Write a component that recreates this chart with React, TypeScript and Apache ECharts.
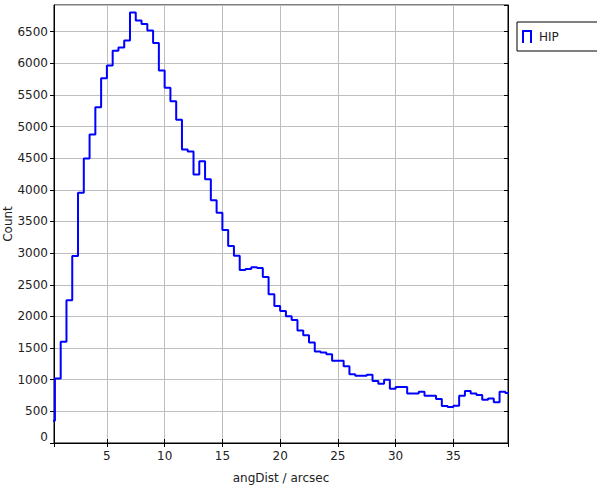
import React, { useEffect, useRef } from "react";
import * as echarts from "echarts";

const binWidth = 0.5;
const binStarts = [
  0, 0.5, 1, 1.5, 2, 2.5, 3, 3.5, 4, 4.5, 5, 5.5, 6, 6.5, 7, 7.5, 8, 8.5, 9, 9.5,
  10, 10.5, 11, 11.5, 12, 12.5, 13, 13.5, 14, 14.5, 15, 15.5, 16, 16.5, 17, 17.5, 18, 18.5, 19, 19.5,
  20, 20.5, 21, 21.5, 22, 22.5, 23, 23.5, 24, 24.5, 25, 25.5, 26, 26.5, 27, 27.5, 28, 28.5, 29, 29.5,
  30, 30.5, 31, 31.5, 32, 32.5, 33, 33.5, 34, 34.5, 35, 35.5, 36, 36.5, 37, 37.5, 38, 38.5, 39, 39.5,
];
const counts = [
  352, 1020, 1598, 2255, 2954, 3954, 4494, 4873, 5304, 5761, 5966, 6198, 6250, 6360, 6802, 6676, 6619, 6518, 6319, 5887,
  5614, 5398, 5109, 4636, 4605, 4242, 4452, 4168, 3837, 3638, 3364, 3111, 2960, 2733, 2749, 2776, 2764, 2623, 2350, 2165,
  2086, 2003, 1944, 1777, 1703, 1588, 1446, 1430, 1404, 1298, 1298, 1214, 1088, 1061, 1061, 1080, 978, 935, 998, 856,
  883, 883, 784, 784, 809, 746, 746, 694, 583, 568, 588, 746, 820, 784, 757, 683, 705, 642, 809, 788,
];
const xRange = [0.42, 39.73];
const yRange = [0, 6920];
const xTickStep = 5;
const yTickStep = 500;
const seriesName = "HIP";
const xTitle = "angDist / arcsec";
const yTitle = "Count";

const FONT = "DejaVu Sans";
const TEXT = "#222";

export default function App() {
  const ref = useRef<HTMLDivElement>(null);
  useEffect(() => {
    if (!ref.current) return;
    const chart = echarts.init(ref.current, undefined, { renderer: "svg" });
    const data: [number, number][] = binStarts.map((x, i) => [x, counts[i]]);
    const last = binStarts.length - 1;
    data.push([binStarts[last] + binWidth, counts[last]]);

    const xCommon = {
      type: "value" as const,
      min: xRange[0],
      max: xRange[1],
      minInterval: xTickStep,
      maxInterval: xTickStep,
      splitNumber: 8,
    };
    const yCommon = {
      type: "value" as const,
      min: yRange[0],
      max: yRange[1],
      interval: yTickStep,
    };

    chart.setOption({
      animation: false,
      backgroundColor: "#fff",
      textStyle: { fontFamily: FONT },
      grid: {
        left: 54,
        top: 5,
        right: 89,
        bottom: 45,
        show: true,
        borderColor: "#000",
        borderWidth: 1,
        containLabel: false,
        outerBoundsMode: "none",
      },
      legend: {
        show: true,
        left: 517,
        top: 22,
        orient: "vertical",
        padding: [8, 39, 8, 5],
        borderColor: "#000",
        borderWidth: 1,
        backgroundColor: "#fff",
        borderRadius: 0,
        itemWidth: 10,
        itemHeight: 13,
        icon: "path://M0,13V0H10V13H8V2H2V13Z",
        textStyle: { fontFamily: FONT, fontSize: 12, color: TEXT, padding: [0, 0, 0, 2] },
        data: [{ name: seriesName, icon: "path://M0,13V0H10V13H8V2H2V13Z" }],
      },
      xAxis: [
        {
          ...xCommon,
          position: "bottom",
          name: xTitle,
          nameLocation: "middle",
          nameGap: 29,
          nameMoveOverlap: false,
          nameTextStyle: { fontFamily: FONT, fontSize: 12, color: TEXT },
          axisLine: { show: true, lineStyle: { color: "#000", width: 1 } },
          axisTick: { show: true, inside: true, length: 4, lineStyle: { color: "#000" } },
          axisLabel: {
            show: true,
            margin: 7,
            fontFamily: FONT,
            fontSize: 12,
            color: TEXT,
            showMinLabel: false,
            showMaxLabel: false,
            formatter: (v: number) => (Math.abs(v / xTickStep - Math.round(v / xTickStep)) < 1e-6 ? String(v) : ""),
          },
          splitLine: { show: true, lineStyle: { color: "#bdbdbd", width: 1 } },
        },
        {
          ...xCommon,
          position: "top",
          axisLine: { show: true, lineStyle: { color: "#000", width: 1 } },
          axisTick: { show: true, inside: true, length: 4, lineStyle: { color: "#000" } },
          axisLabel: { show: false },
          splitLine: { show: false },
        },
      ],
      yAxis: [
        {
          ...yCommon,
          position: "left",
          name: yTitle,
          nameLocation: "middle",
          nameGap: 40,
          nameRotate: 90,
          nameMoveOverlap: false,
          nameTextStyle: { fontFamily: FONT, fontSize: 12, color: TEXT },
          axisLine: { show: true, lineStyle: { color: "#000", width: 1 } },
          axisTick: { show: true, inside: false, length: 4, lineStyle: { color: "#000" } },
          axisLabel: {
            show: true,
            margin: 6,
            fontFamily: FONT,
            fontSize: 12,
            color: TEXT,
            showMaxLabel: false,
            formatter: (v: number) => {
              if (v % yTickStep !== 0) return "";
              if (v === 0) return "{z|0}";
              return String(v);
            },
            rich: {
              z: { fontFamily: FONT, fontSize: 12, color: TEXT, padding: [0, 0, 12, 0] },
            },
          },
          splitLine: { show: true, lineStyle: { color: "#bdbdbd", width: 1 } },
        },
        {
          ...yCommon,
          position: "right",
          axisLine: { show: true, lineStyle: { color: "#000", width: 1 } },
          axisTick: { show: true, inside: true, length: 4, lineStyle: { color: "#000" } },
          axisLabel: { show: false },
          splitLine: { show: false },
        },
      ],
      series: [
        {
          name: seriesName,
          type: "line",
          step: "end",
          data,
          xAxisIndex: 0,
          yAxisIndex: 0,
          showSymbol: false,
          symbol: "none",
          clip: true,
          lineStyle: { color: "#0000ff", width: 2 },
          itemStyle: { color: "#0000ff" },
        },
      ],
    });
    return () => chart.dispose();
  }, []);
  return <div ref={ref} style={{ width: 597, height: 488, position: "absolute", left: 0, top: 0 }} />;
}
